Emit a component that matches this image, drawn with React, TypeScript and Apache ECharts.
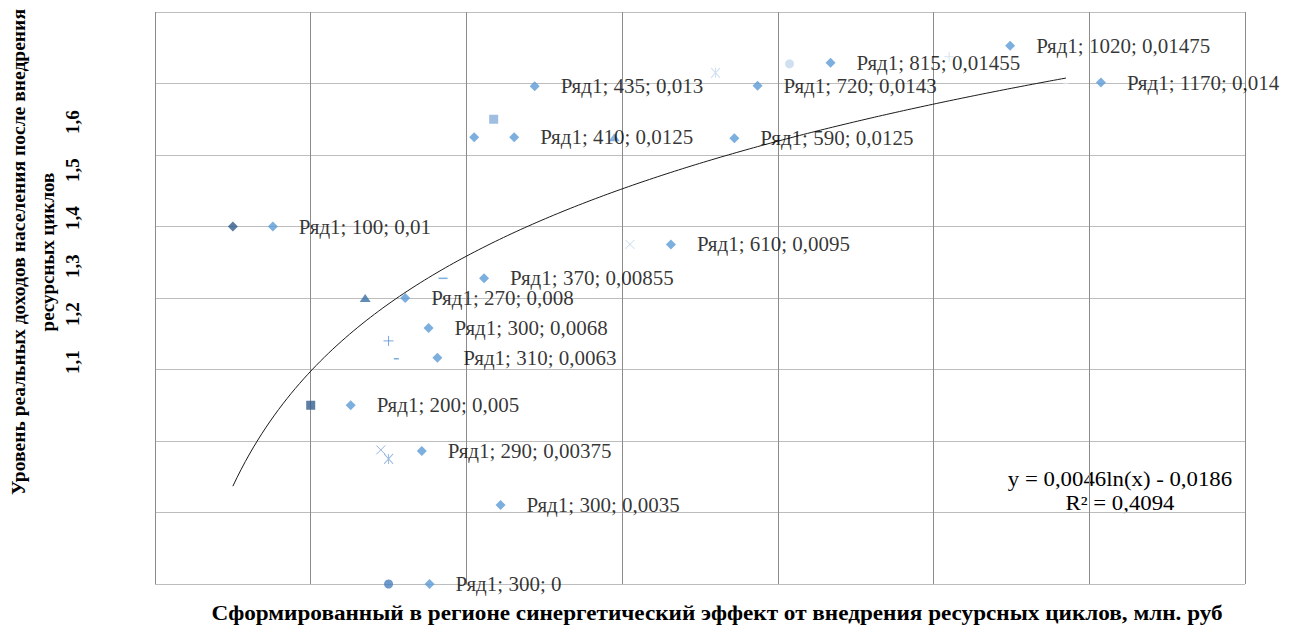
import React, { useEffect, useRef } from "react";
import * as echarts from "echarts";

// ---- Data ----
const seriesName = "Ряд1";
const xValues = [100, 200, 270, 290, 300, 300, 300, 310, 370, 410, 435, 590, 610, 720, 815, 1020, 1170];
const yValues = [0.01, 0.005, 0.008, 0.00375, 0.0035, 0, 0.0068, 0.0063, 0.00855, 0.0125, 0.013, 0.0125, 0.0095, 0.0143, 0.01455, 0.01475, 0.014];
const xTitle = "Сформированный в регионе синергетический эффект от внедрения ресурсных циклов, млн. руб";
const yTitleLines = ["Уровень реальных доходов населения после внедрения", "ресурсных циклов"];
const yExtraTicks = ["1,1", "1,2", "1,3", "1,4", "1,5", "1,6"];
const equationText = "y = 0,0046ln(x) - 0,0186";
const r2Text = "R² = 0,4094";

// ---- Styles ----
const markerCycle = ["diamond", "square", "triangle", "x", "asterisk", "circle", "plus", "dash", "longdash"];
const markerColors = [
  "#2f5b88", "#355f8e", "#3b6fa6", "#7aa3d4", "#7ea8da", "#4a80bd", "#5b8fd0", "#5b9bd5", "#5b9bd5",
  "#5b9bd5", "#88acdb", "#6aa0d8", "#b9cfea", "#c0d4ee", "#c6d8ee", "#d0def1", "#dce7f4",
];
const symbolDefs: Record<string, any> = {
  diamond: { symbol: "diamond", size: [10, 10], stroke: false },
  square: { symbol: "rect", size: [9, 9], stroke: false },
  triangle: { symbol: "triangle", size: [11, 8], stroke: false },
  x: { symbol: "path://M0,0L10,10M10,0L0,10", size: [9, 9], stroke: true },
  asterisk: { symbol: "path://M0,0L10,10M10,0L0,10M5,0L5,10", size: [9, 10], stroke: true },
  circle: { symbol: "circle", size: [9, 9], stroke: false },
  plus: { symbol: "path://M5,0L5,10M0,5L10,5", size: [10, 10], stroke: true },
  dash: { symbol: "rect", size: [5, 1.5], stroke: false },
  longdash: { symbol: "rect", size: [9, 1.5], stroke: false },
};
// offsets of the data-label legend keys from their points (px)
const labelOffsets = [
  [40, 0], [40, 0], [40, 0], [41, 1], [112, 46], [41, 0], [40, -13], [41, -1], [41, 0],
  [40, 0], [41, -33], [120, 1], [41, 0], [42, 13], [41, -1], [61, -11], [35, -1],
];

const fmt = (v: number) => String(v).replace(".", ",");

export default function App() {
  const ref = useRef<HTMLDivElement>(null);
  useEffect(() => {
    if (!ref.current) return;
    const chart = echarts.init(ref.current, undefined, { renderer: "svg" });

    // logarithmic least-squares trendline
    const n = xValues.length;
    const lx = xValues.map((v) => Math.log(v));
    const mx = lx.reduce((a, b) => a + b, 0) / n;
    const my = yValues.reduce((a, b) => a + b, 0) / n;
    let sxx = 0, sxy = 0;
    for (let i = 0; i < n; i++) {
      sxx += (lx[i] - mx) ** 2;
      sxy += (lx[i] - mx) * (yValues[i] - my);
    }
    const slope = sxy / sxx;
    const icpt = my - slope * mx;
    const xmin = Math.min(...xValues);
    const xmax = Math.max(...xValues);
    const trend: number[][] = [];
    const steps = 200;
    for (let k = 0; k <= steps; k++) {
      const x = xmin + ((xmax - xmin) * k) / steps;
      trend.push([x, slope * Math.log(x) + icpt]);
    }

    const pointData = xValues.map((x, i) => {
      const d = symbolDefs[markerCycle[i % markerCycle.length]];
      const c = markerColors[i];
      return {
        value: [x, yValues[i]],
        symbol: d.symbol,
        symbolSize: d.size,
        itemStyle: d.stroke
          ? { color: "none", borderColor: c, borderWidth: 1 }
          : { color: c, borderWidth: 0 },
      };
    });

    const keyData = xValues.map((x, i) => ({
      value: [x, yValues[i]],
      symbolOffset: labelOffsets[i],
    }));

    const serif = "'Liberation Serif', 'Times New Roman', serif";

    chart.setOption({
      animation: false,
      grid: { left: 155, right: 54, top: 12, bottom: 44, show: false },
      xAxis: {
        type: "value",
        min: 0,
        max: 1400,
        interval: 200,
        axisLine: { show: false },
        axisTick: { show: false },
        axisLabel: { show: false },
        splitLine: { show: true, lineStyle: { color: "#8c8c8c", width: 1 } },
      },
      yAxis: {
        type: "value",
        min: 0,
        max: 0.016,
        interval: 0.002,
        axisLine: { show: false },
        axisTick: { show: false },
        axisLabel: { show: false },
        splitLine: { show: true, lineStyle: { color: "#bdbdbd", width: 1 } },
      },
      series: [
        {
          name: "trend",
          type: "line",
          data: trend,
          showSymbol: false,
          symbol: "none",
          lineStyle: { color: "#1a1a1a", width: 1 },
          z: 2,
          silent: true,
        },
        {
          name: seriesName,
          type: "scatter",
          data: pointData,
          z: 3,
        },
        {
          name: seriesName + " labels",
          type: "scatter",
          data: keyData,
          symbol: "diamond",
          symbolSize: 10,
          itemStyle: { color: "#5b9bd5" },
          z: 4,
          label: {
            show: true,
            position: "right",
            distance: 21,
            fontFamily: serif,
            fontSize: 21,
            color: "#000000",
            formatter: (p: any) => `${seriesName}; ${fmt(p.value[0])}; ${fmt(p.value[1])}`,
          },
        },
      ],
      graphic: [
        {
          type: "text",
          x: 717,
          y: 614,
          scaleX: 1.16,
          style: {
            text: xTitle,
            font: `bold 20px ${serif}`,
            fill: "#000",
            align: "center",
            verticalAlign: "middle",
          },
        },
        {
          type: "text",
          x: 19,
          y: 252,
          rotation: Math.PI / 2,
          scaleX: 1.03,
          style: {
            text: yTitleLines[0],
            font: `bold 19px ${serif}`,
            fill: "#000",
            align: "center",
            verticalAlign: "middle",
          },
        },
        {
          type: "text",
          x: 47,
          y: 252,
          rotation: Math.PI / 2,
          style: {
            text: yTitleLines[1],
            font: `bold 19px ${serif}`,
            fill: "#000",
            align: "center",
            verticalAlign: "middle",
          },
        },
        ...yExtraTicks.map((t, i) => ({
          type: "text",
          x: 72,
          y: 362 - i * 48,
          rotation: Math.PI / 2,
          style: {
            text: t,
            font: `bold 19px ${serif}`,
            fill: "#000",
            align: "center",
            verticalAlign: "middle",
          },
        })),
        {
          type: "text",
          x: 1120,
          y: 479,
          scaleX: 1.14,
          style: {
            text: equationText,
            font: `20px ${serif}`,
            fill: "#000",
            align: "center",
            verticalAlign: "middle",
          },
        },
        {
          type: "text",
          x: 1120,
          y: 503,
          scaleX: 1.14,
          style: {
            text: r2Text,
            font: `20px ${serif}`,
            fill: "#000",
            align: "center",
            verticalAlign: "middle",
          },
        },
      ],
    });
    return () => chart.dispose();
  }, []);
  return (
    <div
      ref={ref}
      style={{ position: "fixed", left: 0, top: 0, width: 1299, height: 628, background: "#fff" }}
    />
  );
}
